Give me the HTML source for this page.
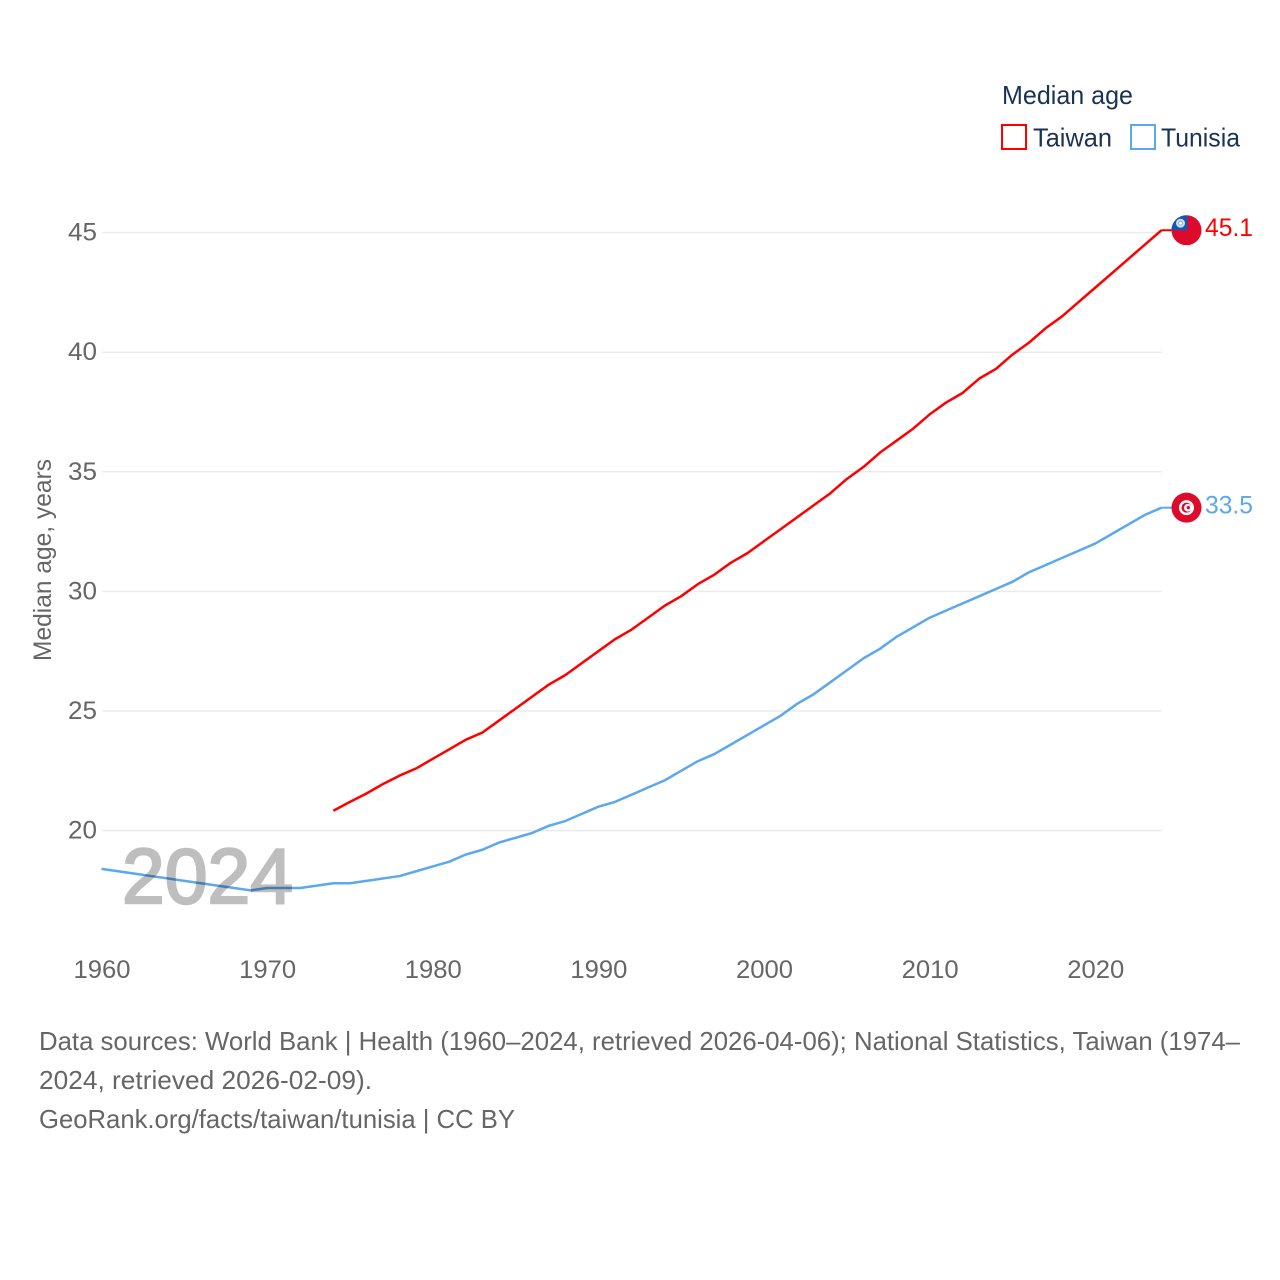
<!DOCTYPE html>
<html lang="en">
<head>
<meta charset="utf-8">
<title>Median age: Taiwan and Tunisia</title>
<style>
html,body{margin:0;padding:0;background:#fff;width:1280px;height:1280px;overflow:hidden}
svg{display:block}
text{font-family:"Liberation Sans",sans-serif}
</style>
</head>
<body>
<svg id="chart" xmlns="http://www.w3.org/2000/svg" width="1280" height="1280" viewBox="0 0 1280 1280">
  <rect x="0" y="0" width="1280" height="1280" fill="#ffffff"/>
  <g id="grid"></g>
  <g id="yticks"></g>
  <g id="xticks"></g>
  <text transform="translate(51,560) rotate(-90)" text-anchor="middle" font-size="25" fill="#666666" textLength="202" lengthAdjust="spacingAndGlyphs">Median age, years</text>
  <g id="series"></g>
  <text x="122" y="903" font-size="78" fill="#000000" stroke="#000000" stroke-width="2.4" opacity="0.25" textLength="171" lengthAdjust="spacingAndGlyphs">2024</text>
  <g>
    <text x="1002" y="104" font-size="26" fill="#1a3353" textLength="131" lengthAdjust="spacingAndGlyphs">Median age</text>
    <g>
      <rect x="1002" y="125" width="24" height="24" fill="#ffffff" stroke="#ff0000" stroke-width="2"/>
      <text x="1033" y="146.500" font-size="26" fill="#1a3353" textLength="79" lengthAdjust="spacingAndGlyphs">Taiwan</text>
    </g>
    <g>
      <rect x="1131" y="125" width="24" height="24" fill="#ffffff" stroke="#5ba8ee" stroke-width="2"/>
      <text x="1161" y="146.500" font-size="26" fill="#1a3353" textLength="79" lengthAdjust="spacingAndGlyphs">Tunisia</text>
    </g>
  </g>
  <g id="flags"></g>
  <g>
    <text x="39" y="1050" font-size="26" fill="#666666" textLength="1201" lengthAdjust="spacingAndGlyphs">Data sources: World Bank | Health (1960–2024, retrieved 2026-04-06); National Statistics, Taiwan (1974–</text>
    <text x="39" y="1089" font-size="26" fill="#666666" textLength="333" lengthAdjust="spacingAndGlyphs">2024, retrieved 2026-02-09).</text>
    <text x="39" y="1128" font-size="26" fill="#666666" textLength="476" lengthAdjust="spacingAndGlyphs">GeoRank.org/facts/taiwan/tunisia | CC BY</text>
  </g>
</svg>
<script>
var xTickYears = [1960, 1970, 1980, 1990, 2000, 2010, 2020];
var yTickValues = [20, 25, 30, 35, 40, 45];
var taiwanStartYear = 1974;
var taiwanValues = [20.83, 21.2, 21.55, 21.95, 22.3, 22.6, 23.0, 23.4, 23.8, 24.1,
  24.6, 25.1, 25.6, 26.1, 26.5, 27.0, 27.5, 28.0, 28.4, 28.9,
  29.4, 29.8, 30.3, 30.7, 31.2, 31.6, 32.1, 32.6, 33.1, 33.6,
  34.1, 34.7, 35.2, 35.8, 36.3, 36.8, 37.4, 37.9, 38.3, 38.9,
  39.3, 39.9, 40.4, 41.0, 41.5, 42.1, 42.7, 43.3, 43.9, 44.5, 45.1];
var tunisiaStartYear = 1960;
var tunisiaValues = [18.4, 18.3, 18.2, 18.1, 18.0, 17.9, 17.8, 17.7, 17.6, 17.5,
  17.6, 17.6, 17.6, 17.7, 17.8, 17.8, 17.9, 18.0, 18.1, 18.3,
  18.5, 18.7, 19.0, 19.2, 19.5, 19.7, 19.9, 20.2, 20.4, 20.7,
  21.0, 21.2, 21.5, 21.8, 22.1, 22.5, 22.9, 23.2, 23.6, 24.0,
  24.4, 24.8, 25.3, 25.7, 26.2, 26.7, 27.2, 27.6, 28.1, 28.5,
  28.9, 29.2, 29.5, 29.8, 30.1, 30.4, 30.8, 31.1, 31.4, 31.7,
  32.0, 32.4, 32.8, 33.2, 33.5];

var NS = 'http://www.w3.org/2000/svg';
function xScale(year) { return 101.5 + (year - 1960) * 16.5625; }
function yScale(value) { return 830.6 - (value - 20) * 23.92; }
function make(tag, parent, attrs, txt) {
  var el = document.createElementNS(NS, tag);
  for (var k in attrs) { el.setAttribute(k, attrs[k]); }
  if (txt !== undefined) { el.textContent = txt; }
  parent.appendChild(el);
  return el;
}

var grid = document.getElementById('grid');
var yticks = document.getElementById('yticks');
var xticks = document.getElementById('xticks');
var series = document.getElementById('series');
var flags = document.getElementById('flags');

yTickValues.forEach(function (v) {
  var line = make('line', grid, {x1: 102, x2: 1162, y1: yScale(v), y2: yScale(v), stroke: '#ebebeb', 'stroke-width': 1.5});
  
  
  var label = make('text', yticks, {x: 68, y: yScale(v) + 8, 'font-size': 25, fill: '#666666', textLength: 29, lengthAdjust: 'spacingAndGlyphs'}, String(v));
  
  
});

xTickYears.forEach(function (y) {
  var label = make('text', xticks, {x: xScale(y) - 28, y: 978, 'font-size': 25, fill: '#666666', textLength: 57, lengthAdjust: 'spacingAndGlyphs'}, String(y));
  
  
});

function linePoints(startYear, values) {
  return values.map(function (v, i) {
    return xScale(startYear + i).toFixed(2) + ',' + yScale(v).toFixed(2);
  }).join(' ');
}

var tunisiaLine = make('polyline', series, {points: linePoints(tunisiaStartYear, tunisiaValues), fill: 'none', stroke: '#5ba8ee', 'stroke-width': 2.5, 'stroke-linejoin': 'round'});



var taiwanLine = make('polyline', series, {points: linePoints(taiwanStartYear, taiwanValues), fill: 'none', stroke: '#ff0000', 'stroke-width': 2.5, 'stroke-linejoin': 'round'});



var taiwanLast = taiwanValues[taiwanValues.length - 1];
var tunisiaLast = tunisiaValues[tunisiaValues.length - 1];
var endX = xScale(taiwanStartYear + taiwanValues.length - 1);
var flagX = endX + 25;
var twY = yScale(taiwanLast);
var tnY = yScale(tunisiaLast);

var connTw = make('line', series, {x1: endX, x2: flagX - 14, y1: twY, y2: twY, stroke: '#ff0000', 'stroke-width': 2});


var connTn = make('line', series, {x1: endX, x2: flagX - 14, y1: tnY, y2: tnY, stroke: '#5ba8ee', 'stroke-width': 2});



var defs = make('defs', flags, {});
var clip = make('clipPath', defs, {id: 'tw-clip'});
make('circle', clip, {cx: flagX, cy: twY, r: 15});

var twFlag = make('g', flags, {'clip-path': 'url(#tw-clip)'});


make('rect', twFlag, {x: flagX - 15, y: twY - 15, width: 30, height: 30, fill: '#de0a2b'});
make('rect', twFlag, {x: flagX - 15, y: twY - 16, width: 16, height: 16, fill: '#1258b0'});
make('circle', twFlag, {cx: flagX - 6, cy: twY - 7, r: 4.5, fill: '#ffffff', 'fill-opacity': 0.8});
make('circle', twFlag, {cx: flagX - 6, cy: twY - 7, r: 2.4, fill: '#7fa8d8'});
make('circle', twFlag, {cx: flagX - 6, cy: twY - 7, r: 1.5, fill: '#ffffff'});

var tnFlag = make('g', flags, {});


make('circle', tnFlag, {cx: flagX, cy: tnY, r: 15, fill: '#de0a2b'});
make('circle', tnFlag, {cx: flagX, cy: tnY, r: 7.5, fill: '#ffffff'});
make('circle', tnFlag, {cx: flagX, cy: tnY, r: 5, fill: '#de0a2b'});
make('circle', tnFlag, {cx: flagX + 1.3, cy: tnY, r: 3.8, fill: '#ffffff'});
make('circle', tnFlag, {cx: flagX + 1.8, cy: tnY, r: 1.7, fill: '#de0a2b'});

var twLabel = make('text', flags, {x: endX + 43.5, y: twY + 6, 'font-size': 25, fill: '#ff0000', textLength: 48, lengthAdjust: 'spacingAndGlyphs'}, taiwanLast.toFixed(1));


var tnLabel = make('text', flags, {x: endX + 43.5, y: tnY + 6, 'font-size': 25, fill: '#5ba8ee', textLength: 48, lengthAdjust: 'spacingAndGlyphs'}, tunisiaLast.toFixed(1));


</script>
</body>
</html>
